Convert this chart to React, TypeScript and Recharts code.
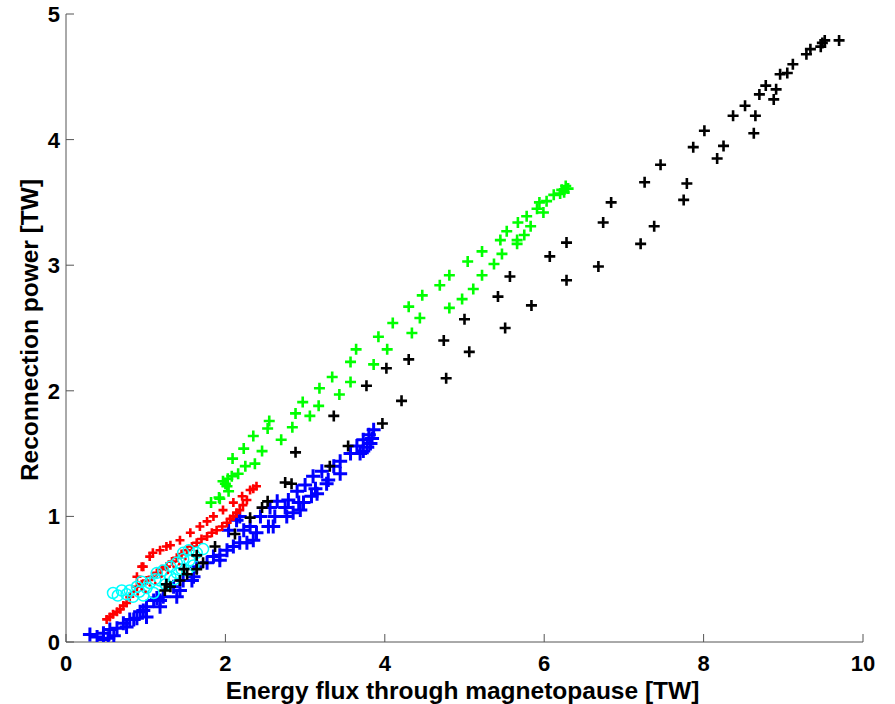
import React from "react";
import { ScatterChart, Scatter, XAxis, YAxis } from "recharts";

const xTicks = [0, 2, 4, 6, 8, 10];
const yTicks = [0, 1, 2, 3, 4, 5];

const blackPoints: [number, number][] = [
  [1.24, 0.41], [1.31, 0.44], [1.26, 0.46], [1.43, 0.49], [1.52, 0.54], [1.48, 0.58],
  [1.64, 0.58], [1.72, 0.63], [1.64, 0.69], [1.87, 0.76], [2.12, 0.86], [2.31, 0.99],
  [2.46, 1.07], [2.53, 1.12], [2.75, 1.27], [2.83, 1.26], [2.88, 1.51], [3.31, 1.4],
  [3.36, 1.8], [3.54, 1.56], [3.77, 2.04], [3.97, 1.74], [4.02, 2.18], [4.21, 1.92],
  [4.3, 2.25], [4.74, 2.4], [4.77, 2.1], [5.0, 2.57], [5.06, 2.31], [5.42, 2.75],
  [5.51, 2.5], [5.57, 2.91], [5.84, 2.68], [6.07, 3.07], [6.28, 3.18], [6.28, 2.88],
  [6.68, 2.99], [6.74, 3.34], [6.84, 3.5], [7.21, 3.17], [7.26, 3.66], [7.38, 3.31],
  [7.46, 3.8], [7.75, 3.52], [7.79, 3.65], [7.87, 3.94], [8.01, 4.07], [8.17, 3.85],
  [8.25, 3.95], [8.37, 4.19], [8.52, 4.27], [8.63, 4.05], [8.65, 4.19], [8.7, 4.36],
  [8.78, 4.43], [8.88, 4.32], [8.91, 4.4], [8.96, 4.52], [9.05, 4.53], [9.12, 4.6],
  [9.29, 4.68], [9.34, 4.72], [9.47, 4.74], [9.49, 4.77], [9.52, 4.79], [9.7, 4.79],
];

const greenPoints: [number, number][] = [
  [1.82, 1.11], [1.93, 1.14], [1.92, 1.15], [2.04, 1.2], [2.02, 1.24], [1.97, 1.28],
  [2.0, 1.26], [2.03, 1.3], [2.08, 1.32], [2.16, 1.34], [2.25, 1.4], [2.37, 1.42],
  [2.09, 1.46], [2.23, 1.54], [2.46, 1.52], [2.35, 1.64], [2.7, 1.61], [2.53, 1.7],
  [2.55, 1.76], [2.84, 1.71], [3.06, 1.8], [2.88, 1.82], [3.17, 1.88], [2.97, 1.91],
  [3.43, 1.97], [3.18, 2.02], [3.57, 2.07], [3.34, 2.11], [3.86, 2.21], [3.57, 2.23],
  [4.03, 2.33], [3.64, 2.33], [3.92, 2.43], [4.34, 2.46], [4.1, 2.54], [4.44, 2.58],
  [4.3, 2.67], [4.81, 2.66], [4.47, 2.76], [4.97, 2.73], [5.11, 2.81], [4.69, 2.84],
  [4.81, 2.92], [5.22, 2.92], [5.37, 3.01], [5.04, 3.03], [5.47, 3.09], [5.22, 3.11],
  [5.66, 3.17], [5.45, 3.2], [5.66, 3.2], [5.75, 3.24], [5.53, 3.27], [5.83, 3.31],
  [5.67, 3.34], [5.78, 3.39], [5.99, 3.42], [5.91, 3.45], [5.94, 3.5], [6.03, 3.51],
  [6.12, 3.56], [6.2, 3.57], [6.22, 3.6], [6.27, 3.63], [6.3, 3.61], [6.25, 3.58],
];

const bluePoints: [number, number][] = [
  [0.3, 0.06], [0.39, 0.04], [0.47, 0.02], [0.53, 0.03], [0.47, 0.07], [0.55, 0.1],
  [0.6, 0.05], [0.64, 0.11], [0.72, 0.15], [0.76, 0.12], [0.8, 0.18], [0.85, 0.18],
  [0.89, 0.19], [0.93, 0.24], [0.97, 0.25], [1.01, 0.2], [1.01, 0.28], [1.1, 0.33],
  [1.18, 0.28], [1.14, 0.35], [1.18, 0.33], [1.22, 0.36], [1.35, 0.44], [1.39, 0.36],
  [1.43, 0.41], [1.47, 0.49], [1.58, 0.49], [1.6, 0.52], [1.64, 0.6], [1.77, 0.63],
  [1.93, 0.65], [1.85, 0.68], [1.93, 0.69], [2.02, 0.73], [2.1, 0.76], [2.18, 0.79],
  [2.27, 0.79], [2.35, 0.81], [2.04, 0.89], [2.23, 0.89], [2.39, 0.87], [2.14, 0.97],
  [2.18, 1.0], [2.31, 0.92], [2.54, 0.92], [2.6, 0.92], [2.44, 1.0], [2.62, 1.0],
  [2.77, 1.0], [2.85, 1.03], [2.56, 1.07], [2.75, 1.07], [2.94, 1.05], [2.65, 1.12],
  [2.79, 1.13], [2.92, 1.11], [2.98, 1.11], [3.08, 1.16], [3.15, 1.18], [2.9, 1.2],
  [3.13, 1.22], [3.0, 1.25], [3.27, 1.26], [3.1, 1.32], [3.29, 1.29], [3.21, 1.36],
  [3.44, 1.34], [3.36, 1.4], [3.44, 1.44], [3.57, 1.5], [3.69, 1.5], [3.73, 1.52],
  [3.65, 1.56], [3.82, 1.58], [3.78, 1.55], [3.73, 1.61], [3.84, 1.62], [3.8, 1.65],
  [3.86, 1.69],
];

const redPoints: [number, number][] = [
  [0.51, 0.18], [0.55, 0.2], [0.59, 0.22], [0.64, 0.24], [0.68, 0.26], [0.72, 0.29],
  [0.76, 0.31], [0.8, 0.36], [0.89, 0.44], [0.95, 0.46], [1.01, 0.49], [1.08, 0.52],
  [1.14, 0.55], [1.2, 0.58], [1.26, 0.6], [1.33, 0.64], [1.39, 0.67], [1.45, 0.7],
  [1.52, 0.73], [1.58, 0.76], [1.64, 0.79], [1.7, 0.82], [1.77, 0.84], [1.83, 0.87],
  [1.89, 0.89], [1.96, 0.92], [2.02, 0.95], [2.06, 0.98], [2.1, 1.0], [2.14, 1.03],
  [2.18, 1.05], [2.22, 1.09], [2.27, 1.13],
  [0.89, 0.52], [0.95, 0.6], [0.97, 0.6], [1.05, 0.68], [1.09, 0.71], [1.18, 0.73],
  [1.26, 0.76], [1.31, 0.77], [1.43, 0.81], [1.56, 0.87], [1.68, 0.92], [1.77, 0.96],
  [1.85, 1.0], [1.97, 1.05], [2.1, 1.11], [2.21, 1.16], [2.31, 1.21], [2.35, 1.22],
  [2.39, 1.24],
];

const redDotPoints: [number, number][] = [
  [0.85, 0.4], [0.9, 0.38], [0.95, 0.42], [1.0, 0.4], [1.05, 0.45], [1.12, 0.47],
  [1.2, 0.52], [1.28, 0.55], [1.35, 0.6], [1.42, 0.62], [1.5, 0.66],
];

const cyanPoints: [number, number][] = [
  [0.59, 0.39], [0.65, 0.37], [0.7, 0.41], [0.76, 0.38], [0.8, 0.41], [0.84, 0.36],
  [0.89, 0.44], [0.92, 0.4], [0.95, 0.48], [0.97, 0.37], [1.01, 0.43], [1.05, 0.47],
  [1.1, 0.39], [1.12, 0.5], [1.14, 0.55], [1.18, 0.49], [1.22, 0.57], [1.25, 0.46],
  [1.31, 0.6], [1.31, 0.52], [1.36, 0.5], [1.39, 0.63], [1.39, 0.55], [1.45, 0.58],
  [1.47, 0.71], [1.47, 0.66], [1.52, 0.57], [1.54, 0.73], [1.55, 0.65], [1.6, 0.61],
  [1.64, 0.71], [1.72, 0.74],
];

const toRows = (pts: [number, number][]) => pts.map(([x, y]) => ({ x, y }));

const font = '"Liberation Sans", Arial, Helvetica, sans-serif';
const axisColor = "#555";

const plus = (size: number, width: number, color: string) => (props: any) => {
  const { cx, cy } = props;
  return (
    <path
      d={`M${cx - size},${cy}H${cx + size}M${cx},${cy - size}V${cy + size}`}
      stroke={color}
      strokeWidth={width}
      fill="none"
    />
  );
};

const ring = (r: number, color: string) => (props: any) => (
  <circle cx={props.cx} cy={props.cy} r={r} stroke={color} strokeWidth={1.5} fill="none" />
);

const dot = (r: number, color: string) => (props: any) => (
  <circle cx={props.cx} cy={props.cy} r={r} fill={color} />
);

const BottomTick = (props: any) => {
  const { x, y, payload } = props;
  return (
    <g>
      <line x1={x} y1={y} x2={x} y2={y - 8} stroke={axisColor} />
      <text x={x} y={y + 29} textAnchor="middle" fontSize={22} fontWeight="bold" fontFamily={font} fill="#000">
        {payload.value}
      </text>
    </g>
  );
};

const LeftTick = (props: any) => {
  const { x, y, payload } = props;
  return (
    <g>
      <line x1={x} y1={y} x2={x + 8} y2={y} stroke={axisColor} />
      <text x={x - 6} y={y + 8} textAnchor="end" fontSize={22} fontWeight="bold" fontFamily={font} fill="#000">
        {payload.value}
      </text>
    </g>
  );
};

const TopTick = (props: any) => (
  <line x1={props.x} y1={props.y} x2={props.x} y2={props.y + 8} stroke={axisColor} />
);

const RightTick = (props: any) => (
  <line x1={props.x} y1={props.y} x2={props.x - 8} y2={props.y} stroke={axisColor} />
);

const XTitle = (props: any) => {
  const vb = props.viewBox;
  if (!vb) return null;
  return (
    <text x={vb.x + vb.width / 2 - 2} y={vb.y + 57} textAnchor="middle" fontSize={24.5} fontWeight="bold" fontFamily={font} fill="#000">
      Energy flux through magnetopause [TW]
    </text>
  );
};

const YTitle = (props: any) => {
  const vb = props.viewBox;
  if (!vb) return null;
  const cx = vb.x + 38;
  const cy = vb.y + vb.height / 2 + 2;
  return (
    <text
      x={cx}
      y={cy}
      transform={`rotate(-90, ${cx}, ${cy})`}
      textAnchor="middle"
      fontSize={24.5}
      fontWeight="bold"
      fontFamily={font}
      fill="#000"
    >
      Reconnection power [TW]
    </text>
  );
};

export default function App() {
  return (
    <div style={{ position: "absolute", left: 0, top: 0, background: "#fff" }}>
      <ScatterChart width={895} height={704} margin={{ top: 14, right: 32, bottom: 0, left: 0 }}>
        <XAxis
          type="number"
          dataKey="x"
          domain={[0, 10]}
          ticks={xTicks}
          interval={0}
          height={62}
          tickSize={0}
          tickMargin={0}
          tickLine={false}
          tick={<BottomTick />}
          axisLine={{ stroke: axisColor }}
          allowDataOverflow
          label={{ content: XTitle }}
        />
        <XAxis
          xAxisId="top"
          orientation="top"
          type="number"
          dataKey="x"
          domain={[0, 10]}
          ticks={xTicks}
          interval={0}
          height={0}
          tickSize={0}
          tickMargin={0}
          tickLine={false}
          tick={<TopTick />}
          axisLine={{ stroke: axisColor }}
        />
        <YAxis
          type="number"
          dataKey="y"
          domain={[0, 5]}
          ticks={yTicks}
          interval={0}
          width={66}
          tickSize={0}
          tickMargin={0}
          tickLine={false}
          tick={<LeftTick />}
          axisLine={{ stroke: axisColor }}
          allowDataOverflow
          label={{ content: YTitle }}
        />
        <YAxis
          yAxisId="right"
          orientation="right"
          type="number"
          dataKey="y"
          domain={[0, 5]}
          ticks={yTicks}
          interval={0}
          width={0}
          tickSize={0}
          tickMargin={0}
          tickLine={false}
          tick={<RightTick />}
          axisLine={{ stroke: axisColor }}
        />
        <Scatter data={toRows(bluePoints)} shape={plus(7, 3, "#0000ff")} isAnimationActive={false} />
        <Scatter data={toRows(redPoints)} shape={plus(4.5, 2.6, "#ff0000")} isAnimationActive={false} />
        <Scatter data={toRows(cyanPoints)} shape={ring(5.5, "#00ffff")} isAnimationActive={false} />
        <Scatter data={toRows(redDotPoints)} shape={dot(1.3, "#ff0000")} isAnimationActive={false} />
        <Scatter data={toRows(greenPoints)} shape={plus(5.5, 2.6, "#00ff00")} isAnimationActive={false} />
        <Scatter data={toRows(blackPoints)} shape={plus(5.5, 2.6, "#000000")} isAnimationActive={false} />
      </ScatterChart>
    </div>
  );
}
